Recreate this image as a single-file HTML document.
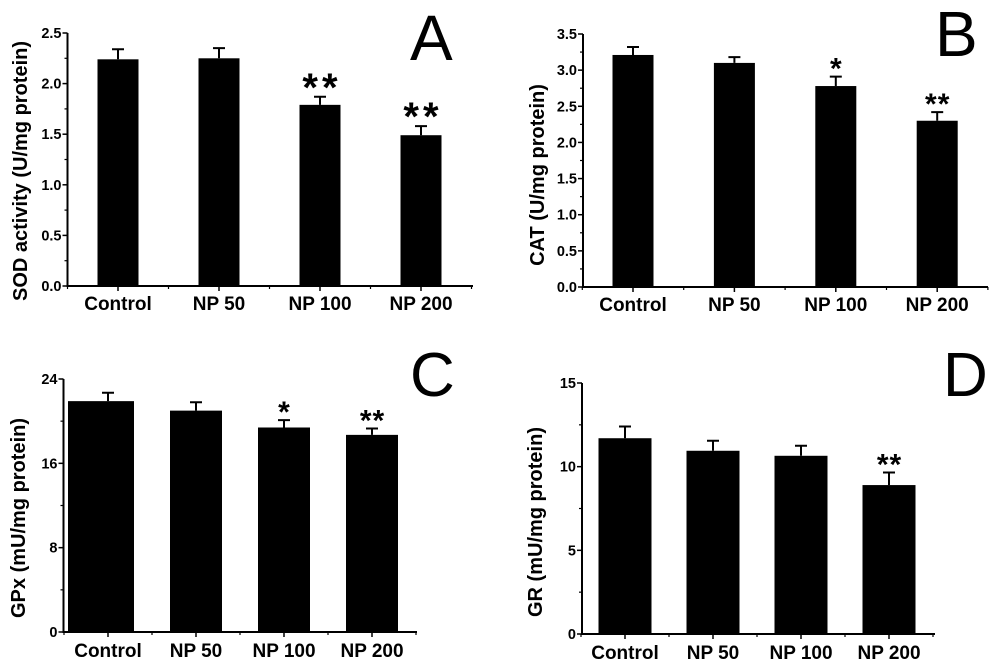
<!DOCTYPE html>
<html><head><meta charset="utf-8"><style>
html,body{margin:0;padding:0;background:#fff}
svg{display:block}
text{font-family:"Liberation Sans",Arial,sans-serif;fill:#000}
</style></head><body>
<svg id="fig" width="1000" height="669" viewBox="0 0 1000 669"></svg>
<script>
const categories = ["Control","NP 50","NP 100","NP 200"];
const sodValues = [2.24, 2.25, 1.79, 1.49];
const sodErrors = [0.10, 0.10, 0.08, 0.09];
const sodStars = ["", "", "**", "**"];
const catValues = [3.21, 3.10, 2.78, 2.30];
const catErrors = [0.11, 0.08, 0.13, 0.12];
const catStars = ["", "", "*", "**"];
const gpxValues = [21.9, 21.0, 19.4, 18.7];
const gpxErrors = [0.8, 0.8, 0.7, 0.6];
const gpxStars = ["", "", "*", "**"];
const grValues = [11.7, 10.95, 10.65, 8.9];
const grErrors = [0.7, 0.6, 0.6, 0.75];
const grStars = ["", "", "", "**"];
const sodTicks = ["0.0","0.5","1.0","1.5","2.0","2.5"];
const catTicks = ["0.0","0.5","1.0","1.5","2.0","2.5","3.0","3.5"];
const gpxTicks = ["0","8","16","24"];
const grTicks = ["0","5","10","15"];

const NS = "http://www.w3.org/2000/svg";
const svg = document.getElementById("fig");
function mk(tag, attrs, parent, txt){
  const e = document.createElementNS(NS, tag);
  for (const k in attrs) e.setAttribute(k, attrs[k]);
  if (txt !== undefined) e.textContent = txt;
  (parent || svg).appendChild(e);
  return e;
}

const panels = [
  {id:"sod", letter:"A", values:sodValues, errors:sodErrors, stars:sodStars, ticks:sodTicks,
   x0:67.5, x1:473, yTop:33, yZero:286, max:2.5, c0:118, step:101, bw:41, firstLeft:null,
   title:"SOD activity (U/mg protein)", tx:20, ty:171, starSize:40, starLS:4, labelY:310,
   lx:410, ly:60, lsize:64, tsize:20},
  {id:"cat", letter:"B", values:catValues, errors:catErrors, stars:catStars, ticks:catTicks,
   x0:583, x1:988, yTop:34, yZero:287, max:3.5, c0:633, step:101.4, bw:41, firstLeft:null,
   title:"CAT (U/mg protein)", tx:537, ty:175, starSize:30, starLS:1, labelY:311,
   lx:935, ly:56, lsize:64, tsize:20},
  {id:"gpx", letter:"C", values:gpxValues, errors:gpxErrors, stars:gpxStars, ticks:gpxTicks,
   x0:63.5, x1:417, yTop:379, yZero:632, max:24, c0:108, step:88, bw:52, firstLeft:68,
   title:"GPx (mU/mg protein)", tx:18, ty:518, starSize:30, starLS:1, labelY:657,
   lx:410, ly:396, lsize:62, tsize:20},
  {id:"gr", letter:"D", values:grValues, errors:grErrors, stars:grStars, ticks:grTicks,
   x0:582, x1:935, yTop:383, yZero:634, max:15, c0:625, step:88, bw:53, firstLeft:null,
   title:"GR (mU/mg protein)", tx:535, ty:522, starSize:30, starLS:1, labelY:659,
   lx:943, ly:396, lsize:62, tsize:20}
];

panels.forEach(p => {
  const g = mk("g", {});
  
  
  const ys = v => p.yZero - (v / p.max) * (p.yZero - p.yTop);
  const xs = i => p.c0 + i * p.step;
  p.values.forEach((v, i) => {
    const cx = xs(i);
    const left = (i === 0 && p.firstLeft !== null) ? p.firstLeft : cx - p.bw/2;
    const right = cx + p.bw/2;
    const bar = mk("rect", {x:left, y:ys(v), width:right-left, height:p.yZero-ys(v), fill:"#000"}, g);
    
    
    const top = ys(v + p.errors[i]);
    const eb = mk("path", {d:`M${cx},${ys(v)} V${top} M${cx-6},${top} H${cx+6}`, stroke:"#000", "stroke-width":2, fill:"none"}, g);
    
    
    if (p.stars[i]) {
      const st = mk("text", {x:cx + p.starLS/2, y:top - 4 + p.starSize*0.2, "text-anchor":"middle", "font-size":p.starSize, "font-weight":"bold", "letter-spacing":p.starLS}, g, p.stars[i]);
      
      
    }
    const lab = mk("text", {x:cx, y:p.labelY, "text-anchor":"middle", "font-size":19, "font-weight":"bold"}, g, categories[i]);
    
    
    mk("line", {x1:cx, y1:p.yZero, x2:cx, y2:p.yZero+5, stroke:"#000", "stroke-width":1.5}, g);
    mk("line", {x1:cx+p.step/2, y1:p.yZero, x2:cx+p.step/2, y2:p.yZero+3, stroke:"#000", "stroke-width":1.2}, g);
  });
  mk("line", {x1:p.c0-p.step/2, y1:p.yZero, x2:p.c0-p.step/2, y2:p.yZero+3, stroke:"#000", "stroke-width":1.2}, g);
  const ax = mk("path", {d:`M${p.x0},${p.yTop} V${p.yZero} H${p.x1}`, stroke:"#000", "stroke-width":2, fill:"none"}, g);
  
  
  const n = p.ticks.length;
  p.ticks.forEach((t, k) => {
    const val = p.max * k / (n - 1);
    const y = ys(val);
    mk("line", {x1:p.x0-5, y1:y, x2:p.x0, y2:y, stroke:"#000", "stroke-width":1.5}, g);
    if (k < n - 1) { const ym = ys(val + p.max/(n-1)/2); mk("line", {x1:p.x0-3, y1:ym, x2:p.x0, y2:ym, stroke:"#000", "stroke-width":1.2}, g); }
    const tl = mk("text", {x:p.x0-6, y:y+5, "text-anchor":"end", "font-size":14.5, "font-weight":"bold"}, g, t);
    
    
  });
  const tt = mk("text", {x:0, y:0, "text-anchor":"middle", "font-size":p.tsize, "font-weight":"bold", transform:`translate(${p.tx + 7},${p.ty}) rotate(-90)`}, g, p.title);
  
  
  const L = mk("text", {x:p.lx, y:p.ly, "font-size":p.lsize}, g, p.letter);
  
  
});
</script>
</body></html>
